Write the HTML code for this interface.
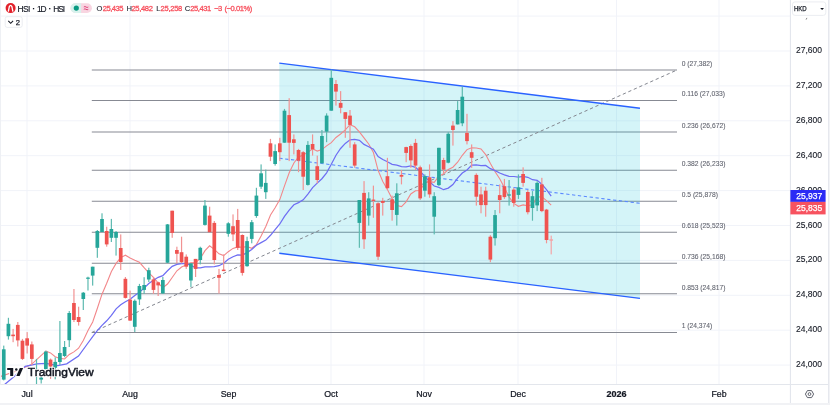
<!DOCTYPE html>
<html><head><meta charset="utf-8"><style>
html,body{margin:0;padding:0;background:#fff;width:830px;height:405px;overflow:hidden;font-family:"Liberation Sans",sans-serif;}
.abs{position:absolute;white-space:nowrap;}
svg text{font-family:"Liberation Sans",sans-serif;}
</style></head><body>
<svg width="830" height="405" viewBox="0 0 830 405" style="position:absolute;left:0;top:0;will-change:transform">
<svg x="0" y="0" width="790" height="384.5" viewBox="0 0 790 384.5">
<g stroke="#F1F3F9" stroke-width="1"><line x1="27" y1="0" x2="27" y2="384.5"/><line x1="130" y1="0" x2="130" y2="384.5"/><line x1="228.5" y1="0" x2="228.5" y2="384.5"/><line x1="331" y1="0" x2="331" y2="384.5"/><line x1="424" y1="0" x2="424" y2="384.5"/><line x1="518" y1="0" x2="518" y2="384.5"/><line x1="616.5" y1="0" x2="616.5" y2="384.5"/><line x1="719" y1="0" x2="719" y2="384.5"/><line x1="0" y1="365.1" x2="790" y2="365.1"/><line x1="0" y1="330.2" x2="790" y2="330.2"/><line x1="0" y1="295.3" x2="790" y2="295.3"/><line x1="0" y1="260.4" x2="790" y2="260.4"/><line x1="0" y1="225.5" x2="790" y2="225.5"/><line x1="0" y1="190.6" x2="790" y2="190.6"/><line x1="0" y1="155.7" x2="790" y2="155.7"/><line x1="0" y1="120.8" x2="790" y2="120.8"/><line x1="0" y1="85.9" x2="790" y2="85.9"/><line x1="0" y1="51.0" x2="790" y2="51.0"/><line x1="0" y1="16.1" x2="790" y2="16.1"/></g>
<g stroke="#878A93" stroke-width="1.05"><line x1="91.8" y1="70.0" x2="677" y2="70.0"/><line x1="91.8" y1="100.4" x2="677" y2="100.4"/><line x1="91.8" y1="131.9" x2="677" y2="131.9"/><line x1="91.8" y1="170.2" x2="677" y2="170.2"/><line x1="91.8" y1="201.2" x2="677" y2="201.2"/><line x1="91.8" y1="232.2" x2="677" y2="232.2"/><line x1="91.8" y1="263.2" x2="677" y2="263.2"/><line x1="91.8" y1="293.8" x2="677" y2="293.8"/><line x1="91.8" y1="332.5" x2="677" y2="332.5"/></g>
<g fill="#60636E" stroke="#60636E" stroke-width="0.1" font-size="8"><text x="681.7" y="65.7" textLength="30.6" lengthAdjust="spacingAndGlyphs">0 (27,382)</text><text x="681.7" y="96.1" textLength="43.2" lengthAdjust="spacingAndGlyphs">0.116 (27,033)</text><text x="681.7" y="127.6" textLength="43.7" lengthAdjust="spacingAndGlyphs">0.236 (26,672)</text><text x="681.7" y="165.9" textLength="43.7" lengthAdjust="spacingAndGlyphs">0.382 (26,233)</text><text x="681.7" y="196.9" textLength="36.2" lengthAdjust="spacingAndGlyphs">0.5 (25,878)</text><text x="681.7" y="227.9" textLength="43.7" lengthAdjust="spacingAndGlyphs">0.618 (25,523)</text><text x="681.7" y="258.9" textLength="43.7" lengthAdjust="spacingAndGlyphs">0.736 (25,168)</text><text x="681.7" y="289.5" textLength="43.7" lengthAdjust="spacingAndGlyphs">0.853 (24,817)</text><text x="681.7" y="328.2" textLength="30.6" lengthAdjust="spacingAndGlyphs">1 (24,374)</text></g>
<polygon points="279.3,63.1 640,108.2 640,298.4 279.3,253.3" fill="rgb(0,188,212)" fill-opacity="0.17"/>
<line x1="91.8" y1="332.5" x2="677" y2="70" stroke="#83868F" stroke-width="1" stroke-dasharray="3.3 2.7"/>
<g stroke="#2962FF" stroke-width="1.4"><line x1="279.3" y1="63.1" x2="640" y2="108.2"/><line x1="279.3" y1="253.3" x2="640" y2="298.4"/></g>
<line x1="279.3" y1="158.20000000000002" x2="640" y2="203.29999999999998" stroke="#5A88FF" stroke-width="1.1" stroke-dasharray="3.3 2.6"/>
<path d="M0.0,376.7 L15.0,371.5 L31.0,364.8 L45.9,351.1 L50.5,352.9 L55.2,356.7 L59.9,358.4 L64.6,359.0 L69.3,354.4 L73.9,351.9 L78.6,348.2 L83.3,340.5 L88.0,330.5 L92.7,322.0 L97.3,308.5 L102.0,294.2 L106.7,283.3 L111.4,271.5 L116.1,263.4 L120.7,257.6 L125.4,255.2 L130.1,258.0 L134.8,260.3 L139.4,262.3 L144.1,267.7 L148.8,272.8 L153.5,277.3 L158.2,283.0 L162.8,287.8 L167.5,284.0 L172.2,277.5 L176.9,270.8 L181.6,267.0 L186.2,265.0 L190.9,262.9 L195.6,262.8 L200.3,258.5 L205.0,250.6 L209.6,245.8 L214.3,249.3 L219.0,253.8 L223.7,255.6 L228.3,251.7 L233.0,248.4 L237.7,246.9 L242.4,247.3 L247.1,246.6 L251.7,248.3 L256.4,244.6 L261.1,236.0 L265.8,226.5 L270.5,215.0 L275.1,207.8 L279.8,199.6 L284.5,185.9 L289.2,172.8 L293.9,163.0 L298.5,156.9 L303.2,155.0 L307.9,152.2 L312.6,148.8 L317.2,151.1 L321.9,149.6 L326.6,145.9 L331.3,142.7 L336.0,137.5 L340.6,134.0 L345.3,129.9 L350.0,124.7 L354.7,126.8 L359.4,131.8 L364.0,137.8 L368.7,144.0 L373.4,152.5 L378.1,170.4 L382.8,181.5 L387.4,189.6 L392.1,198.7 L396.8,205.5 L401.5,206.6 L406.1,201.9 L410.8,194.0 L415.5,190.8 L420.2,190.5 L424.9,182.5 L429.5,181.6 L434.2,182.4 L438.9,176.2 L443.6,173.8 L448.3,169.5 L452.9,167.2 L457.6,162.2 L462.3,155.3 L467.0,149.6 L471.7,147.7 L476.3,148.0 L481.0,148.9 L485.7,154.6 L490.4,163.6 L495.1,171.7 L499.7,178.7 L504.4,187.4 L509.1,197.2 L513.8,203.4 L518.4,206.3 L523.1,204.9 L527.8,205.7 L532.5,204.8 L537.2,197.1 L541.8,196.7 L546.5,200.7 L551.2,205.1" fill="none" stroke="#F2878A" stroke-width="1.1"/>
<path d="M0.0,389.0 L5.2,384.0 L14.8,376.0 L25.2,366.3 L37.0,363.8 L46.0,363.3 L57.8,365.6 L66.7,363.8 L78.5,356.0 L88.0,343.0 L92.7,336.6 L97.3,330.7 L102.0,325.4 L106.7,320.8 L111.4,315.3 L116.1,308.9 L120.7,304.8 L125.4,301.7 L130.1,299.3 L134.8,295.4 L139.4,292.2 L144.1,288.1 L148.8,283.5 L153.5,280.3 L158.2,277.3 L162.8,275.6 L167.5,270.8 L172.2,266.4 L176.9,264.4 L181.6,263.7 L186.2,263.7 L190.9,265.3 L195.6,267.8 L200.3,267.9 L205.0,266.8 L209.6,266.8 L214.3,266.7 L219.0,265.7 L223.7,263.2 L228.3,259.3 L233.0,256.7 L237.7,254.9 L242.4,255.0 L247.1,252.6 L251.7,249.4 L256.4,245.2 L261.1,242.6 L265.8,240.1 L270.5,235.3 L275.1,229.7 L279.8,224.0 L284.5,216.4 L289.2,210.1 L293.9,204.8 L298.5,202.6 L303.2,199.8 L307.9,194.1 L312.6,187.6 L317.2,183.1 L321.9,178.7 L326.6,172.8 L331.3,164.3 L336.0,155.2 L340.6,148.5 L345.3,143.4 L350.0,139.8 L354.7,139.5 L359.4,140.3 L364.0,144.4 L368.7,146.8 L373.4,149.2 L378.1,156.5 L382.8,159.5 L387.4,161.8 L392.1,164.3 L396.8,165.1 L401.5,166.7 L406.1,166.9 L410.8,165.9 L415.5,167.4 L420.2,171.5 L424.9,176.4 L429.5,181.6 L434.2,186.0 L438.9,187.4 L443.6,189.7 L448.3,188.1 L452.9,184.6 L457.6,178.1 L462.3,173.0 L467.0,170.0 L471.7,165.1 L476.3,164.8 L481.0,165.6 L485.7,165.4 L490.4,168.7 L495.1,170.6 L499.7,173.0 L504.4,174.8 L509.1,176.3 L513.8,176.5 L518.4,177.0 L523.1,176.5 L527.8,177.3 L532.5,179.7 L537.2,180.3 L541.8,184.2 L546.5,189.7 L551.2,196.2" fill="none" stroke="#6E6EF3" stroke-width="1.25"/>
<g fill="#5DBAB0"><rect x="3.15" y="345.6" width="1.2" height="34.8"/><rect x="7.83" y="317.8" width="1.2" height="21.8"/><rect x="35.91" y="358.9" width="1.2" height="25.1"/><rect x="40.59" y="375.8" width="1.2" height="7.7"/><rect x="45.27" y="350.7" width="1.2" height="20.3"/><rect x="54.62" y="357.4" width="1.2" height="21.9"/><rect x="59.30" y="321.0" width="1.2" height="44.0"/><rect x="63.98" y="341.0" width="1.2" height="16.2"/><rect x="68.66" y="311.0" width="1.2" height="36.0"/><rect x="82.70" y="292.0" width="1.2" height="18.0"/><rect x="87.38" y="276.7" width="1.2" height="13.8"/><rect x="92.06" y="266.7" width="1.2" height="18.9"/><rect x="96.74" y="230.0" width="1.2" height="27.8"/><rect x="101.41" y="213.3" width="1.2" height="18.7"/><rect x="110.77" y="218.9" width="1.2" height="23.1"/><rect x="115.45" y="231.0" width="1.2" height="24.6"/><rect x="134.17" y="299.5" width="1.2" height="32.5"/><rect x="138.85" y="283.9" width="1.2" height="21.1"/><rect x="143.53" y="277.2" width="1.2" height="16.7"/><rect x="148.20" y="267.7" width="1.2" height="14.3"/><rect x="162.24" y="277.0" width="1.2" height="17.0"/><rect x="166.92" y="224.0" width="1.2" height="39.0"/><rect x="190.32" y="263.3" width="1.2" height="23.7"/><rect x="199.67" y="246.7" width="1.2" height="17.7"/><rect x="204.35" y="200.0" width="1.2" height="25.6"/><rect x="227.75" y="222.2" width="1.2" height="14.5"/><rect x="246.46" y="236.7" width="1.2" height="30.0"/><rect x="251.14" y="220.0" width="1.2" height="23.3"/><rect x="255.82" y="187.8" width="1.2" height="30.0"/><rect x="260.50" y="164.4" width="1.2" height="24.5"/><rect x="265.18" y="169.6" width="1.2" height="29.3"/><rect x="274.54" y="144.4" width="1.2" height="21.2"/><rect x="283.89" y="108.9" width="1.2" height="33.8"/><rect x="307.29" y="141.1" width="1.2" height="44.5"/><rect x="321.33" y="130.0" width="1.2" height="33.3"/><rect x="326.01" y="113.3" width="1.2" height="28.9"/><rect x="330.68" y="69.6" width="1.2" height="41.1"/><rect x="358.76" y="200.0" width="1.2" height="47.8"/><rect x="368.12" y="192.2" width="1.2" height="33.4"/><rect x="396.19" y="183.3" width="1.2" height="42.3"/><rect x="424.26" y="174.4" width="1.2" height="22.3"/><rect x="433.62" y="192.2" width="1.2" height="42.2"/><rect x="438.30" y="147.8" width="1.2" height="38.2"/><rect x="447.66" y="132.2" width="1.2" height="31.1"/><rect x="457.02" y="101.1" width="1.2" height="23.3"/><rect x="461.70" y="86.7" width="1.2" height="39.5"/><rect x="494.45" y="210.0" width="1.2" height="35.6"/><rect x="508.49" y="180.0" width="1.2" height="25.6"/><rect x="517.85" y="174.4" width="1.2" height="24.5"/><rect x="531.88" y="191.1" width="1.2" height="29.6"/><rect x="536.56" y="181.1" width="1.2" height="30.0"/></g>
<g fill="#F19393"><rect x="12.51" y="328.9" width="1.2" height="13.3"/><rect x="17.19" y="322.0" width="1.2" height="24.5"/><rect x="21.87" y="338.9" width="1.2" height="21.1"/><rect x="26.55" y="332.1" width="1.2" height="21.4"/><rect x="31.23" y="341.5" width="1.2" height="23.7"/><rect x="49.95" y="358.5" width="1.2" height="20.4"/><rect x="73.34" y="289.0" width="1.2" height="33.0"/><rect x="78.02" y="306.7" width="1.2" height="18.9"/><rect x="106.09" y="226.7" width="1.2" height="20.0"/><rect x="120.13" y="234.4" width="1.2" height="35.6"/><rect x="124.81" y="277.0" width="1.2" height="21.5"/><rect x="129.49" y="290.6" width="1.2" height="30.4"/><rect x="152.88" y="277.0" width="1.2" height="16.9"/><rect x="157.56" y="281.7" width="1.2" height="14.3"/><rect x="171.60" y="210.7" width="1.2" height="27.1"/><rect x="176.28" y="246.7" width="1.2" height="16.6"/><rect x="180.96" y="236.7" width="1.2" height="26.6"/><rect x="185.64" y="254.4" width="1.2" height="14.5"/><rect x="194.99" y="258.9" width="1.2" height="18.1"/><rect x="209.03" y="206.7" width="1.2" height="25.5"/><rect x="213.71" y="221.0" width="1.2" height="43.4"/><rect x="218.39" y="268.9" width="1.2" height="24.6"/><rect x="223.07" y="254.4" width="1.2" height="16.7"/><rect x="232.43" y="214.4" width="1.2" height="26.7"/><rect x="237.11" y="208.9" width="1.2" height="41.1"/><rect x="241.78" y="234.4" width="1.2" height="41.2"/><rect x="269.86" y="138.9" width="1.2" height="22.2"/><rect x="279.22" y="137.8" width="1.2" height="23.3"/><rect x="288.57" y="98.2" width="1.2" height="62.9"/><rect x="293.25" y="134.4" width="1.2" height="20.0"/><rect x="297.93" y="148.9" width="1.2" height="23.3"/><rect x="302.61" y="151.1" width="1.2" height="38.9"/><rect x="311.97" y="134.4" width="1.2" height="21.2"/><rect x="316.65" y="155.6" width="1.2" height="27.7"/><rect x="335.36" y="80.0" width="1.2" height="25.6"/><rect x="340.04" y="91.1" width="1.2" height="22.2"/><rect x="344.72" y="112.2" width="1.2" height="25.6"/><rect x="349.40" y="110.0" width="1.2" height="37.8"/><rect x="354.08" y="142.2" width="1.2" height="25.6"/><rect x="363.44" y="181.1" width="1.2" height="67.8"/><rect x="372.80" y="185.6" width="1.2" height="32.2"/><rect x="377.47" y="202.2" width="1.2" height="57.8"/><rect x="382.15" y="197.8" width="1.2" height="17.8"/><rect x="386.83" y="157.8" width="1.2" height="32.2"/><rect x="391.51" y="195.6" width="1.2" height="25.1"/><rect x="400.87" y="170.0" width="1.2" height="14.4"/><rect x="405.55" y="146.7" width="1.2" height="15.5"/><rect x="410.23" y="144.4" width="1.2" height="23.4"/><rect x="414.91" y="138.9" width="1.2" height="31.1"/><rect x="419.59" y="165.6" width="1.2" height="34.4"/><rect x="428.94" y="164.4" width="1.2" height="33.4"/><rect x="442.98" y="157.8" width="1.2" height="15.5"/><rect x="452.34" y="121.1" width="1.2" height="24.5"/><rect x="466.38" y="113.8" width="1.2" height="30.6"/><rect x="471.06" y="144.4" width="1.2" height="23.4"/><rect x="475.73" y="173.3" width="1.2" height="32.3"/><rect x="480.41" y="186.7" width="1.2" height="26.6"/><rect x="485.09" y="186.7" width="1.2" height="30.0"/><rect x="489.77" y="235.1" width="1.2" height="27.1"/><rect x="499.13" y="184.4" width="1.2" height="28.9"/><rect x="503.81" y="178.9" width="1.2" height="20.0"/><rect x="513.17" y="187.8" width="1.2" height="18.9"/><rect x="522.52" y="167.3" width="1.2" height="19.4"/><rect x="527.20" y="190.0" width="1.2" height="24.4"/><rect x="541.24" y="177.8" width="1.2" height="34.4"/><rect x="545.92" y="208.9" width="1.2" height="34.4"/></g>
<g fill="#26A69A"><rect x="1.90" y="349.3" width="3.7" height="30.3"/><rect x="6.58" y="323.8" width="3.7" height="12.4"/><rect x="34.66" y="369.0" width="3.7" height="2.0"/><rect x="39.34" y="377.7" width="3.7" height="1.9"/><rect x="44.02" y="351.6" width="3.7" height="17.5"/><rect x="53.37" y="361.9" width="3.7" height="5.9"/><rect x="58.05" y="353.0" width="3.7" height="9.0"/><rect x="62.73" y="347.0" width="3.7" height="9.0"/><rect x="67.41" y="313.0" width="3.7" height="27.2"/><rect x="81.45" y="292.7" width="3.7" height="6.3"/><rect x="86.13" y="277.6" width="3.7" height="1.2"/><rect x="90.81" y="266.7" width="3.7" height="8.9"/><rect x="95.49" y="231.0" width="3.7" height="16.8"/><rect x="100.16" y="219.0" width="3.7" height="13.0"/><rect x="109.52" y="229.0" width="3.7" height="8.8"/><rect x="114.20" y="232.0" width="3.7" height="5.8"/><rect x="132.92" y="300.8" width="3.7" height="26.0"/><rect x="137.60" y="286.0" width="3.7" height="13.4"/><rect x="142.28" y="285.0" width="3.7" height="4.9"/><rect x="146.95" y="270.2" width="3.7" height="9.3"/><rect x="160.99" y="280.0" width="3.7" height="13.4"/><rect x="165.67" y="224.4" width="3.7" height="38.3"/><rect x="189.07" y="263.3" width="3.7" height="17.2"/><rect x="198.42" y="247.8" width="3.7" height="12.2"/><rect x="203.10" y="205.6" width="3.7" height="19.3"/><rect x="226.50" y="223.3" width="3.7" height="10.5"/><rect x="245.21" y="241.1" width="3.7" height="25.1"/><rect x="249.89" y="222.2" width="3.7" height="16.7"/><rect x="254.57" y="195.6" width="3.7" height="20.4"/><rect x="259.25" y="173.3" width="3.7" height="13.4"/><rect x="263.93" y="182.9" width="3.7" height="9.3"/><rect x="273.29" y="151.1" width="3.7" height="12.9"/><rect x="282.64" y="110.7" width="3.7" height="32.0"/><rect x="306.04" y="144.9" width="3.7" height="40.0"/><rect x="320.08" y="136.0" width="3.7" height="27.3"/><rect x="324.76" y="115.6" width="3.7" height="16.0"/><rect x="329.43" y="77.8" width="3.7" height="32.9"/><rect x="357.51" y="200.0" width="3.7" height="22.9"/><rect x="366.87" y="198.4" width="3.7" height="17.2"/><rect x="394.94" y="193.3" width="3.7" height="21.6"/><rect x="423.01" y="176.2" width="3.7" height="14.5"/><rect x="432.37" y="196.2" width="3.7" height="20.5"/><rect x="437.05" y="147.8" width="3.7" height="37.3"/><rect x="446.41" y="133.8" width="3.7" height="28.9"/><rect x="455.77" y="110.0" width="3.7" height="14.4"/><rect x="460.45" y="96.7" width="3.7" height="26.6"/><rect x="493.20" y="215.1" width="3.7" height="23.1"/><rect x="507.24" y="194.4" width="3.7" height="1.2"/><rect x="516.60" y="187.3" width="3.7" height="7.6"/><rect x="530.63" y="196.2" width="3.7" height="11.8"/><rect x="535.31" y="182.9" width="3.7" height="22.5"/></g>
<g fill="#EF5350"><rect x="11.26" y="334.6" width="3.7" height="1.6"/><rect x="15.94" y="324.9" width="3.7" height="15.5"/><rect x="20.62" y="340.7" width="3.7" height="18.2"/><rect x="25.30" y="338.3" width="3.7" height="7.3"/><rect x="29.98" y="344.4" width="3.7" height="14.5"/><rect x="48.70" y="359.6" width="3.7" height="6.9"/><rect x="72.09" y="303.0" width="3.7" height="17.0"/><rect x="76.77" y="317.0" width="3.7" height="5.0"/><rect x="104.84" y="231.0" width="3.7" height="13.4"/><rect x="118.88" y="248.0" width="3.7" height="14.0"/><rect x="123.56" y="278.8" width="3.7" height="19.1"/><rect x="128.24" y="299.6" width="3.7" height="21.0"/><rect x="151.63" y="279.4" width="3.7" height="10.5"/><rect x="156.31" y="282.3" width="3.7" height="3.1"/><rect x="170.35" y="210.7" width="3.7" height="22.2"/><rect x="175.03" y="250.0" width="3.7" height="3.8"/><rect x="179.71" y="252.2" width="3.7" height="10.0"/><rect x="184.39" y="256.7" width="3.7" height="10.0"/><rect x="193.74" y="258.9" width="3.7" height="10.0"/><rect x="207.78" y="215.6" width="3.7" height="16.6"/><rect x="212.46" y="222.9" width="3.7" height="37.1"/><rect x="217.14" y="275.0" width="3.7" height="2.8"/><rect x="221.82" y="269.6" width="3.7" height="1.5"/><rect x="231.18" y="226.2" width="3.7" height="8.2"/><rect x="235.86" y="220.0" width="3.7" height="27.8"/><rect x="240.53" y="235.0" width="3.7" height="37.9"/><rect x="268.61" y="143.3" width="3.7" height="13.4"/><rect x="277.97" y="143.3" width="3.7" height="8.9"/><rect x="287.32" y="115.1" width="3.7" height="27.6"/><rect x="292.00" y="139.3" width="3.7" height="3.6"/><rect x="296.68" y="150.0" width="3.7" height="10.7"/><rect x="301.36" y="152.2" width="3.7" height="24.5"/><rect x="310.72" y="144.0" width="3.7" height="5.3"/><rect x="315.40" y="166.2" width="3.7" height="13.8"/><rect x="334.11" y="84.0" width="3.7" height="7.6"/><rect x="338.79" y="102.9" width="3.7" height="4.9"/><rect x="343.47" y="112.2" width="3.7" height="6.7"/><rect x="348.15" y="115.6" width="3.7" height="9.3"/><rect x="352.83" y="144.4" width="3.7" height="21.2"/><rect x="362.19" y="192.9" width="3.7" height="46.4"/><rect x="371.55" y="199.6" width="3.7" height="1.3"/><rect x="376.22" y="203.3" width="3.7" height="53.4"/><rect x="380.90" y="201.0" width="3.7" height="1.9"/><rect x="385.58" y="176.2" width="3.7" height="12.0"/><rect x="390.26" y="199.3" width="3.7" height="10.7"/><rect x="399.62" y="174.9" width="3.7" height="1.8"/><rect x="404.30" y="147.1" width="3.7" height="5.8"/><rect x="408.98" y="146.0" width="3.7" height="14.4"/><rect x="413.66" y="142.9" width="3.7" height="22.7"/><rect x="418.34" y="167.3" width="3.7" height="31.1"/><rect x="427.69" y="177.3" width="3.7" height="17.1"/><rect x="441.73" y="160.0" width="3.7" height="9.6"/><rect x="451.09" y="125.6" width="3.7" height="4.4"/><rect x="465.13" y="132.9" width="3.7" height="8.2"/><rect x="469.81" y="152.2" width="3.7" height="5.6"/><rect x="474.48" y="174.9" width="3.7" height="21.8"/><rect x="479.16" y="194.4" width="3.7" height="10.7"/><rect x="483.84" y="190.7" width="3.7" height="14.4"/><rect x="488.52" y="236.7" width="3.7" height="22.9"/><rect x="497.88" y="195.1" width="3.7" height="4.9"/><rect x="502.56" y="186.2" width="3.7" height="10.9"/><rect x="511.92" y="189.6" width="3.7" height="13.3"/><rect x="521.27" y="174.0" width="3.7" height="8.9"/><rect x="525.95" y="192.0" width="3.7" height="20.2"/><rect x="539.99" y="184.4" width="3.7" height="26.7"/><rect x="544.67" y="209.6" width="3.7" height="30.4"/></g>
<g fill="#F4A3A6"><rect x="550.60" y="235.6" width="1.2" height="18.8"/><rect x="549.35" y="239.3" width="3.7" height="1.4"/></g>
</svg>
<!-- axes -->
<line x1="790.4" y1="0" x2="790.4" y2="405" stroke="#E0E3EB" stroke-width="1"/>
<line x1="0" y1="384.5" x2="828" y2="384.5" stroke="#E3E6EC" stroke-width="1"/>
<g font-size="8.5" fill="#131722" text-anchor="end" stroke="#131722" stroke-width="0.1">
<text x="822" y="367.1">24,000</text><text x="822" y="332.2">24,400</text><text x="822" y="297.3">24,800</text><text x="822" y="262.4">25,200</text><text x="822" y="227.5">25,600</text><text x="822" y="192.6">26,000</text><text x="822" y="157.7">26,400</text><text x="822" y="122.8">26,800</text><text x="822" y="87.9">27,200</text><text x="822" y="53.0">27,600</text>
<path d="M806.9,17.9 L806.1,19.6" stroke="#555" stroke-width="0.7"/>
</g>
<rect x="790.4" y="190" width="35.2" height="11.9" fill="#2B2BF5"/>
<rect x="790.4" y="201.9" width="35.2" height="12.5" fill="#F7525F"/>
<g font-size="8.5" fill="#fff" text-anchor="end" stroke="#fff" stroke-width="0.25"><text x="822.2" y="198.9">25,937</text><text x="822.2" y="211.1">25,835</text></g>
<g font-size="8.8" fill="#131722" stroke="#131722" stroke-width="0.22" text-anchor="middle">
<text x="27" y="397">Jul</text><text x="130" y="397">Aug</text><text x="228.5" y="397">Sep</text><text x="331" y="397">Oct</text><text x="424" y="397">Nov</text><text x="518" y="397">Dec</text><text x="616.5" y="397" font-weight="bold" font-size="9">2026</text><text x="719" y="397">Feb</text>
</g>
<!-- header -->
<rect x="792.5" y="1.9" width="33.3" height="13.5" rx="2.5" fill="#fff" stroke="#E6E8EE" stroke-width="0.8"/>
<text x="793.9" y="11.2" font-size="7.4" fill="#131722" stroke="#131722" stroke-width="0.25" textLength="12.8" lengthAdjust="spacingAndGlyphs">HKD</text>
<path d="M820.2,8 L824,8 L822.1,10 Z" fill="#131722"/>
<!-- gear -->
<g fill="none" stroke="#5D606B" stroke-width="1">
<path d="M805.4,394.1 L807.4,390.6 L811.6,390.6 L813.6,394.1 L811.6,397.6 L807.4,397.6 Z"/>
<circle cx="809.5" cy="394.1" r="1.4"/>
</g>
<line x1="828.75" y1="0" x2="828.75" y2="405" stroke="#E6E8EE" stroke-width="1.5"/>
<rect x="0" y="403" width="830" height="2" fill="#F1F2F5"/>
<line x1="0.5" y1="0" x2="0.5" y2="384.5" stroke="#EEF0F4" stroke-width="1"/>
<!-- symbol header -->
<circle cx="10.6" cy="8.1" r="5" fill="#E2202A"/>
<path d="M8.3,11.6 L9.3,6.6 Q10.6,4.0 11.9,6.6 L12.9,11.6" fill="none" stroke="#fff" stroke-width="1.3"/>
<g font-size="8.4" fill="#131722" stroke="#131722" stroke-width="0.15" lengthAdjust="spacingAndGlyphs">
<text x="17.5" y="11.7" textLength="12.9">HSI</text>
<text x="37.0" y="11.7" textLength="9.6">1D</text>
<text x="53.2" y="11.7" textLength="12.0">HSI</text>
</g>
<rect x="32.9" y="8" width="1.3" height="1.3" fill="#131722"/>
<rect x="49.1" y="8" width="1.3" height="1.3" fill="#131722"/>
<rect x="70.5" y="3.3" width="21.4" height="9.7" rx="4.85" fill="#F8D5E1"/>
<path d="M75.35,3.3 L81.1,3.3 L81.1,13 L75.35,13 A4.85,4.85 0 0 1 75.35,3.3 Z" fill="#D8F2ED"/>
<circle cx="76.3" cy="8.1" r="2.6" fill="#089981"/>
<g fill="none" stroke="#E0457B" stroke-width="1"><path d="M83.8,7 Q85,6 86,7 T88.3,7"/><path d="M83.8,9.3 Q85,8.3 86,9.3 T88.3,9.3"/></g>
<g font-size="7.6" lengthAdjust="spacingAndGlyphs" stroke-width="0.3">
<text x="96.4" y="11.3" fill="#2A2E39" stroke="#2A2E39" stroke-width="0.12" textLength="6.2">O</text>
<text x="102.8" y="11.3" fill="#F7525F" stroke="#F7525F" textLength="20.7">25,435</text>
<text x="126.4" y="11.3" fill="#2A2E39" stroke="#2A2E39" stroke-width="0.12" textLength="5.1">H</text>
<text x="131.5" y="11.3" fill="#F7525F" stroke="#F7525F" textLength="21.4">25,482</text>
<text x="156.3" y="11.3" fill="#2A2E39" stroke="#2A2E39" stroke-width="0.12" textLength="4.3">L</text>
<text x="160.6" y="11.3" fill="#F7525F" stroke="#F7525F" textLength="21.7">25,258</text>
<text x="184.8" y="11.3" fill="#2A2E39" stroke="#2A2E39" stroke-width="0.12" textLength="5.0">C</text>
<text x="190.3" y="11.3" fill="#F7525F" stroke="#F7525F" textLength="20.9">25,431</text>
<text x="214.3" y="11.3" fill="#F7525F" stroke="#F7525F" textLength="8.0">−3</text>
<text x="224.4" y="11.3" fill="#F7525F" stroke="#F7525F" textLength="27.9">(−0.01%)</text>
</g>
<rect x="5.2" y="16.7" width="17" height="10.7" rx="2" fill="#fff" stroke="#E6E8EE" stroke-width="0.8"/>
<path d="M8.3,20.9 L10.7,23.3 L13.1,20.9" fill="none" stroke="#131722" stroke-width="1.05"/>
<text x="15.8" y="24.8" font-size="7.6" fill="#131722" stroke="#131722" stroke-width="0.25">2</text>
<!-- TV logo -->
<g fill="#fff" stroke="#fff" stroke-width="2.2" stroke-linejoin="round">
<path d="M7.2,368.1 L13.2,368.1 L13.2,376.1 L10.2,376.1 L10.2,370.0 L7.2,370.0 Z"/>
<circle cx="16.3" cy="369.5" r="1.25"/>
<path d="M19.8,368.1 L23.1,368.1 L19.6,376.1 L16.3,376.1 Z"/>
<text x="27.8" y="376.2" font-size="10.8" font-weight="bold" textLength="65.8" lengthAdjust="spacingAndGlyphs">TradingView</text>
</g>
<g fill="#131722">
<path d="M7.2,368.1 L13.2,368.1 L13.2,376.1 L10.2,376.1 L10.2,370.0 L7.2,370.0 Z"/>
<circle cx="16.3" cy="369.5" r="1.25"/>
<path d="M19.8,368.1 L23.1,368.1 L19.6,376.1 L16.3,376.1 Z"/>
<text x="27.8" y="376.2" font-size="10.8" stroke="#131722" stroke-width="0.45" textLength="65.8" lengthAdjust="spacingAndGlyphs">TradingView</text>
</g>
</svg>
</body></html>
